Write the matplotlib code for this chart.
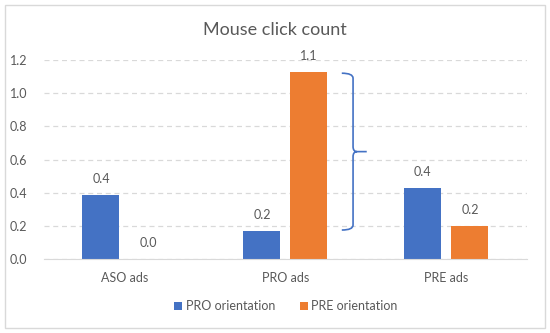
import matplotlib
matplotlib.use("Agg")
import matplotlib.pyplot as plt
import numpy as np
from matplotlib.path import Path
from matplotlib.patches import PathPatch, Rectangle

plt.rcParams['font.family'] = ['Lato', 'DejaVu Sans']

categories = ["ASO ads", "PRO ads", "PRE ads"]
pro_orientation = [0.385, 0.17, 0.43]
pre_orientation = [0.0, 1.13, 0.20]
yticks = [0.0, 0.2, 0.4, 0.6, 0.8, 1.0, 1.2]

BLUE = "#4472C4"
ORANGE = "#ED7D31"
TXT = "#595959"
GRID = "#D9D9D9"

fig = plt.figure(figsize=(5.5, 3.33), dpi=100)
ax = fig.add_axes([0.08, 0.222, 0.878, 0.598])

x = np.arange(len(categories))
w = 0.23
off = 0.146
b1 = ax.bar(x - off, pro_orientation, w, color=BLUE, label="PRO orientation", zorder=3)
b2 = ax.bar(x + off, pre_orientation, w, color=ORANGE, label="PRE orientation", zorder=3)

for bars, vals in ((b1, pro_orientation), (b2, pre_orientation)):
    for b, v in zip(bars, vals):
        ax.annotate(f"{v:.1f}", (b.get_x() + b.get_width() / 2, v),
                    xytext=(0, 7), textcoords="offset points",
                    ha="center", va="bottom", fontsize=9, color=TXT)

ax.set_xlim(-0.5, 2.5)
ax.set_ylim(0, 1.2)
ax.set_yticks(yticks)
ax.set_yticklabels([f"{t:.1f}" for t in yticks])
ax.set_xticks(x)
ax.set_xticklabels(categories)
ax.tick_params(axis="both", length=0, labelsize=9, colors=TXT)
ax.tick_params(axis="x", pad=9)
ax.tick_params(axis="y", pad=12)
ax.yaxis.grid(True, color=GRID, linestyle=(0, (4, 3)), linewidth=0.9, zorder=0)
for s in ("top", "right", "left"):
    ax.spines[s].set_visible(False)
ax.spines["bottom"].set_color(GRID)
ax.spines["bottom"].set_zorder(4)

# brace next to the PRO ads orange bar
lo = pro_orientation[1] + 0.005
hi = pre_orientation[1] - 0.01
mid = (lo + hi) / 2
xs, xv, xt = 1.35, 1.42, 1.505
r = 0.03
verts = [(xs, hi), (xv, hi), (xv, hi - r), (xv, mid + r), (xv, mid), (xv + 0.025, mid),
         (xt, mid),
         (xv + 0.025, mid), (xv, mid), (xv, mid - r), (xv, lo + r), (xv, lo), (xs, lo)]
codes = [Path.MOVETO, Path.CURVE3, Path.CURVE3, Path.LINETO, Path.CURVE3, Path.CURVE3,
         Path.LINETO,
         Path.MOVETO, Path.CURVE3, Path.CURVE3, Path.LINETO, Path.CURVE3, Path.CURVE3]
ax.add_patch(PathPatch(Path(verts, codes), fill=False, edgecolor=BLUE, linewidth=1.2,
                       zorder=5, clip_on=False))

fig.text(0.5, 0.91, "Mouse click count", ha="center", va="center", fontsize=13, color=TXT)

leg = fig.legend(handles=[b1, b2], loc="center", bbox_to_anchor=(0.52, 0.08), ncol=2,
                 frameon=False, fontsize=9, handlelength=0.6, handleheight=0.6,
                 handletextpad=0.3, columnspacing=2.0)
for t in leg.get_texts():
    t.set_color(TXT)

fig.patches.append(Rectangle((0.009, 0.015), 0.982, 0.97, transform=fig.transFigure,
                             fill=False, edgecolor="#D9D9D9", linewidth=1))

fig.savefig("out.png", dpi=100)
